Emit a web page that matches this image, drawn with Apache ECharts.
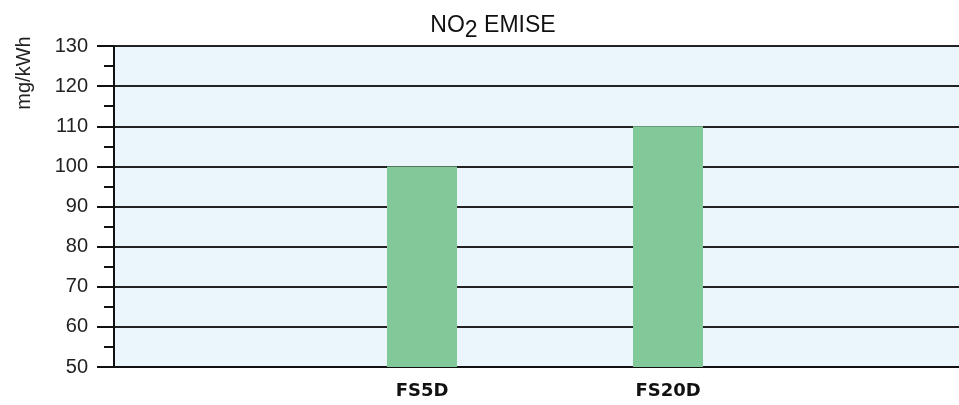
<!DOCTYPE html>
<html>
<head>
<meta charset="utf-8">
<script src="https://cdn.jsdelivr.net/npm/echarts@6/dist/echarts.min.js"></script>
<style>
    html, body { margin: 0; padding: 0; background: #fff; }
    #chart { width: 959px; height: 405px; }
</style>
</head>
<body>
<div id="chart"></div>
<script>
const categories = ['FS5D', 'FS20D'];
const emissions = [100, 110];
const yMin = 50;
const yMax = 130;
const yStep = 10;

const chart = echarts.init(document.getElementById('chart'), null, { renderer: 'canvas' });

const axisFont = 'Liberation Sans, Arial, sans-serif';

chart.setOption({
    animation: false,
    title: {
        text: '{a|NO}{b|2}{a| EMISE}',
        left: 488,
        top: 6,
        textAlign: 'center',
        textStyle: {
            rich: {
                a: { fontFamily: axisFont, fontSize: 23, fontWeight: 500, color: '#111', lineHeight: 26, verticalAlign: 'bottom' },
                b: { fontFamily: axisFont, fontSize: 23, fontWeight: 500, color: '#111', lineHeight: 26, verticalAlign: 'bottom', padding: [0, 0, -5, 0] },
            },
        },
    },
    graphic: [{
        type: 'text',
        x: 24,
        y: 73,
        rotation: Math.PI / 2,
        style: {
            text: 'mg/kWh',
            fontFamily: axisFont,
            fontSize: 20,
            fill: '#222',
            align: 'center',
            verticalAlign: 'middle',
        },
    }],
    grid: [
        { left: 114, right: -20, top: 46, bottom: 38, show: true, backgroundColor: '#eaf5fc', borderWidth: 0 },
        { left: 299, right: 168, top: 46, bottom: 38 },
    ],
    xAxis: [
        {
            gridIndex: 0,
            type: 'category',
            data: [''],
            axisLine: { lineStyle: { color: '#111', width: 2 } },
            axisTick: { show: false },
            axisLabel: { show: false },
        },
        {
            gridIndex: 1,
            type: 'category',
            data: categories,
            axisLine: { show: false },
            axisTick: { show: false },
            axisLabel: {
                margin: 15,
                fontFamily: 'DejaVu Sans, sans-serif',
                fontSize: 18,
                fontWeight: 'bold',
                color: '#111',
            },
        },
    ],
    yAxis: [
        {
            gridIndex: 0,
            type: 'value',
            min: yMin,
            max: yMax,
            interval: yStep,
            axisLine: { show: true, lineStyle: { color: '#111', width: 2 } },
            axisTick: { show: true, length: 17, lineStyle: { color: '#111', width: 2 } },
            minorTick: { show: true, splitNumber: 2, length: 10, lineStyle: { color: '#111', width: 2 } },
            axisLabel: {
                margin: 26,
                fontFamily: axisFont,
                fontSize: 20,
                color: '#222',
            },
            splitLine: { lineStyle: { color: '#222', width: 2 } },
        },
        {
            gridIndex: 1,
            type: 'value',
            min: yMin,
            max: yMax,
            interval: yStep,
            show: false,
        },
    ],
    series: [{
        type: 'bar',
        xAxisIndex: 1,
        yAxisIndex: 1,
        data: emissions,
        barWidth: 70,
        itemStyle: { color: '#82c99a' },
    }],
});
</script>
</body>
</html>
